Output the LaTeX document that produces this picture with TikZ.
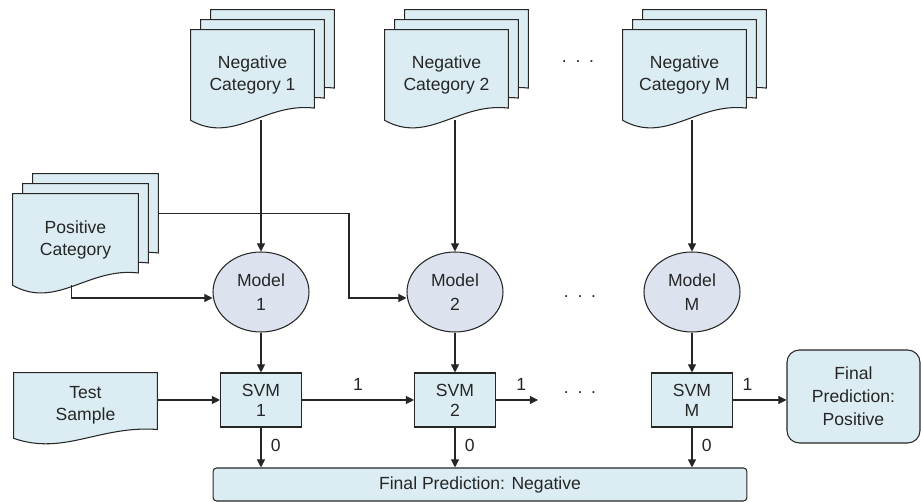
\documentclass[tikz,border=0pt]{standalone}
\usepackage{fontspec}
\setmainfont{Liberation Sans}
\usepackage{xcolor}
\usetikzlibrary{shapes,shapes.geometric,arrows,arrows.meta,positioning,calc,backgrounds}

\definecolor{docblue}{RGB}{219,237,243}
\definecolor{modelblue}{RGB}{220,227,238}
\definecolor{inkgray}{RGB}{38,38,38}

% one page with a wavy bottom, behind node #1, offset by #2
\newcommand{\docpage}[2]{%
  \path[page] let \p1=($(#1.south west)+(#2)$), \p2=($(#1.north east)+(#2)$),
      \n1={\x2-\x1}, \n2={\y2-\y1} in
    (\x1,\y2) -- (\x2,\y2) -- (\x2,\y1+0.135*\n2)
    .. controls (\x1+0.6*\n1,\y1+0.2*\n2) and (\x1+0.35*\n1,\y1-0.267*\n2) .. (\x1,\y1) -- cycle;}
% stack of three pages
\newcommand{\docstack}[1]{%
  \docpage{#1}{20,-20}\docpage{#1}{10,-10}\docpage{#1}{0,0}}

\begin{document}
\begin{tikzpicture}[
    x=0.02cm, y=-0.02cm,
    every node/.style={text=inkgray},
    doc/.style={rectangle, align=center, inner sep=0pt, font=\fontsize{10}{12.5}\selectfont},
    page/.style={draw=inkgray, fill=docblue, line width=0.6pt},
    model/.style={ellipse, draw=inkgray, fill=modelblue, line width=0.6pt, minimum width=1.92cm, minimum height=1.6cm, align=center, font=\fontsize{10}{14}\selectfont},
    svmbox/.style={rectangle, draw=inkgray, fill=docblue, line width=0.6pt, minimum width=1.62cm, minimum height=1.08cm, align=center, font=\fontsize{10}{11.5}\selectfont},
    outcome/.style={rectangle, draw=inkgray, fill=docblue, line width=0.6pt, align=center, font=\fontsize{10}{13}\selectfont},
    lbl/.style={font=\fontsize{10}{12}\selectfont},
    dots/.style={font=\fontsize{10}{12}\selectfont, inner sep=0pt},
    arrow/.style={->, >={Triangle[length=4.6pt,width=4.6pt]}, line width=0.6pt, draw=inkgray}
]
    \useasboundingbox (0,0) rectangle (921,502);

    % documents
    \node[doc, minimum width=2.46cm, minimum height=1.8cm] (nc1) at (252.5,75) {Negative\\Category 1};
    \node[doc, minimum width=2.46cm, minimum height=1.8cm] (nc2) at (446.5,75) {Negative\\Category 2};
    \node[doc, minimum width=2.46cm, minimum height=1.8cm] (ncm) at (684.5,75) {Negative\\Category M};
    \node[doc, minimum width=2.5cm, minimum height=1.82cm] (pc) at (75.5,239.5) {Positive\\Category};
    \node[doc, minimum width=2.86cm, minimum height=1.3cm] (ts) at (85.5,405.5) {Test\\Sample};

    \begin{pgfonlayer}{background}
        \docstack{nc1}
        \docstack{nc2}
        \docstack{ncm}
        \docstack{pc}
        \docpage{ts}{0,0}
    \end{pgfonlayer}

    % models and classifiers
    \node[model] (model1) at (261,292) {Model\\1};
    \node[model] (model2) at (455,292) {Model\\2};
    \node[model] (modelm) at (692,292) {Model\\M};

    \node[svmbox] (svm1) at (261,400) {SVM\\1};
    \node[svmbox] (svm2) at (455,400) {SVM\\2};
    \node[svmbox] (svmm) at (692,400) {SVM\\M};

    \node[outcome, rounded corners=2pt, minimum width=10.68cm, minimum height=0.66cm] (fneg) at (480,484.5) {Final Prediction: Negative};
    \node[outcome, rounded corners=7pt, minimum width=2.66cm, minimum height=1.86cm] (fpos) at (853.5,396.5) {Final\\Prediction:\\Positive};

    \node[dots] (dtop) at (578,62) {.\enspace.\enspace.};
    \node[dots] (dmid) at (580,297) {.\enspace.\enspace.};
    \node[dots] (dlow) at (580,393) {.\enspace.\enspace.};

    \coordinate (pcout) at ($(pc.east)+(20,-26)$);
    \coordinate (bend) at (349,298);
    \coordinate (gap) at (538,400);

    % connectors
    \draw[arrow] (nc1.south -| model1) -- (model1);
    \draw[arrow] (nc2.south -| model2) -- (model2);
    \draw[arrow] (ncm.south -| modelm) -- (modelm);
    \draw[arrow] ($(pc.south)+(-4,0)$) |- ($(model1.west)+(0,6)$);
    \draw[arrow] (pcout) -| (bend) -- ($(model2.west)+(0,6)$);

    \draw[arrow] (model1) -- (svm1);
    \draw[arrow] (model2) -- (svm2);
    \draw[arrow] (modelm) -- (svmm);

    \draw[arrow] (ts.east |- svm1.west) -- (svm1.west);
    \draw[arrow] (svm1) -- node[lbl, above=1.5pt] {1} (svm2);
    \draw[arrow] (svm2) -- node[lbl, above=1.5pt, pos=0.6] {1} (gap);
    \draw[arrow] (svmm) -- node[lbl, above=1.5pt, pos=0.27] {1} (svmm -| fpos.west);

    \draw[arrow] (svm1) -- node[lbl, right=2pt, pos=0.44] {0} (svm1 |- fneg.north);
    \draw[arrow] (svm2) -- node[lbl, right=2pt, pos=0.44] {0} (svm2 |- fneg.north);
    \draw[arrow] (svmm) -- node[lbl, right=2pt, pos=0.44] {0} (svmm |- fneg.north);
\end{tikzpicture}
\end{document}
